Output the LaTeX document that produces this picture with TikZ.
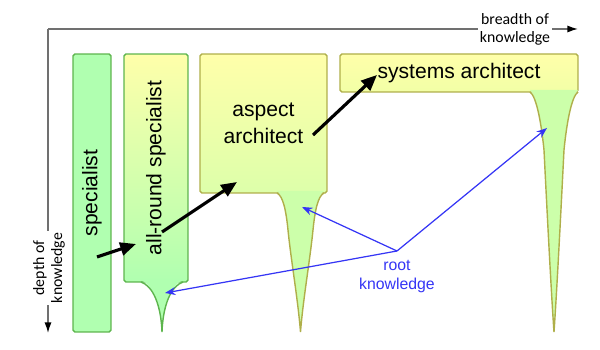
\documentclass[tikz,border=0pt]{standalone}
\usepackage{fontspec}
\setmainfont{Liberation Sans}
\newfontfamily\axisfont{Carlito}
\usetikzlibrary{positioning,arrows.meta}
\definecolor{specGreen}{HTML}{B0FFB0}
\definecolor{specEdge}{HTML}{5DB54D}
\definecolor{archYellow}{HTML}{FFFFAA}
\definecolor{aspectLow}{HTML}{DDFFAA}
\definecolor{systemsLow}{HTML}{F2FFA6}
\definecolor{archEdge}{HTML}{AFAF4A}
\definecolor{rootGreen}{HTML}{CCFFAA}
\definecolor{rootBlue}{HTML}{3535F5}
\definecolor{axisGray}{HTML}{707070}

\tikzset{
  role/.style={draw, line width=0.8pt, rounded corners=1pt, inner sep=0pt,
    align=center, font=\fontsize{12}{15.4}\selectfont},
  axis/.style={axisGray, line width=0.8pt, -{Latex[length=6pt,width=4pt,black]}},
  axislabel/.style={fill=white, inner sep=1pt, align=center,
    font=\axisfont\fontsize{9}{10.2}\selectfont},
  stepup/.style={black, line width=1.8pt, -{Triangle[length=9pt,width=7.5pt]}},
  rootlink/.style={rootBlue, line width=0.7pt, -{Stealth[length=6pt,width=4.5pt]}},
  rootlabel/.style={rootBlue, align=center, font=\fontsize{9}{10.8}\selectfont}
}

\begin{document}
\begin{tikzpicture}[x=0.02cm, y=-0.02cm]
        \useasboundingbox (0,0) rectangle (600,350);
        \coordinate (origin) at (48,29);
        \coordinate (breadthEnd) at (578,29);
        \coordinate (depthEnd) at (48,333);
        \draw[axis] (origin) -- (breadthEnd);
        \draw[axis] (origin) -- (depthEnd);
        \node[axislabel] (breadth) at (515,29) {breadth of\\knowledge};
        \node[axislabel, rotate=90] (depth) at (49,268) {depth of\\knowledge};
        \node[role, draw=specEdge, fill=specGreen,
          minimum width=0.76cm, minimum height=5.56cm] (spec) at (92,193) {\rotatebox{90}{specialist}};
        \node[role, draw=specEdge, top color=archYellow, bottom color=specGreen,
          minimum width=1.28cm, minimum height=4.56cm] (allround) at (156,168) {\rotatebox{90}{all-round specialist}};
        \node[role, draw=archEdge, top color=archYellow, bottom color=aspectLow,
          minimum width=2.54cm, minimum height=2.78cm] (aspect) at (263.5,123.5) {aspect\\architect};
        \node[role, draw=archEdge, top color=archYellow, bottom color=systemsLow,
          minimum width=4.76cm, minimum height=0.76cm] (systems) at (459,73) {systems architect};
        \fill[specGreen] (141,280) .. controls (153,285) and (161,305) .. (162,332)
          .. controls (163,305) and (171,285) .. (183,280) -- cycle;
        \draw[specEdge, line width=0.8pt] (141,282) .. controls (153,286) and (161,305) .. (162,332)
          .. controls (163,305) and (171,286) .. (183,282);
        \fill[rootGreen] (277,191) .. controls (283,195) and (286,210) .. (288,230)
          .. controls (291,260) and (298,300) .. (300.5,332)
          .. controls (303,300) and (310,260) .. (313,230)
          .. controls (315,210) and (318,195) .. (324,191) -- cycle;
        \draw[archEdge, line width=0.8pt] (277,193) .. controls (283,196) and (286,210) .. (288,230)
          .. controls (291,260) and (298,300) .. (300.5,332)
          .. controls (303,300) and (310,260) .. (313,230)
          .. controls (315,210) and (318,196) .. (324,193);
        \fill[rootGreen] (530,90) .. controls (536,95) and (541,120) .. (544,150)
          .. controls (546,190) and (551,290) .. (554,332)
          .. controls (557,290) and (562,190) .. (564,150)
          .. controls (567,120) and (572,95) .. (578,90) -- cycle;
        \draw[archEdge, line width=0.8pt] (530,92) .. controls (536,96) and (541,120) .. (544,150)
          .. controls (546,190) and (551,290) .. (554,332)
          .. controls (557,290) and (562,190) .. (564,150)
          .. controls (567,120) and (572,96) .. (578,92);
        \coordinate (specOut) at (97,257);
        \coordinate (allroundIn) at (136,244);
        \coordinate (allroundOut) at (162,232);
        \coordinate (aspectIn) at (237,182);
        \coordinate (aspectOut) at (313,135);
        \coordinate (systemsIn) at (377,75);
        \draw[stepup] (specOut) -- (allroundIn);
        \draw[stepup] (allroundOut) -- (aspectIn);
        \draw[stepup] (aspectOut) -- (systemsIn);
        \node[rootlabel] (root) at (397,277) {root\\knowledge};
        \coordinate (rootHub) at (397,251);
        \coordinate (allroundRoot) at (165,293);
        \coordinate (aspectRoot) at (302,207);
        \coordinate (systemsRoot) at (547,128);
        \draw[rootlink] (rootHub) -- (allroundRoot);
        \draw[rootlink] (rootHub) -- (aspectRoot);
        \draw[rootlink] (rootHub) -- (systemsRoot);
      \end{tikzpicture}
\end{document}
